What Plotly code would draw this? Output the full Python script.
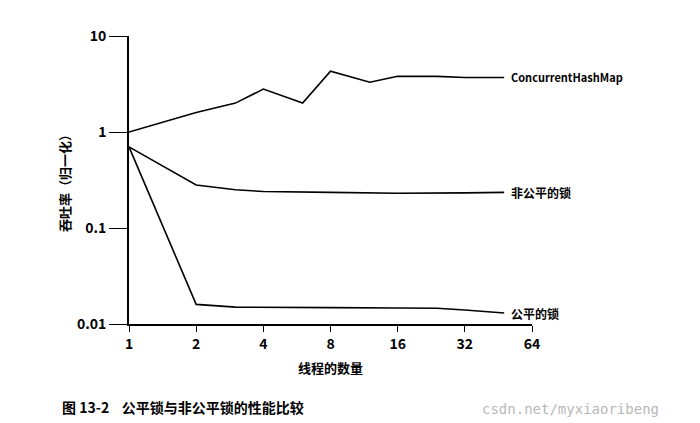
import math
import plotly.graph_objects as go

chm_x = [1, 2, 3, 4, 6, 8, 12, 16, 24, 32, 48]
chm_y = [1.0, 1.6, 2.0, 2.8, 2.0, 4.3, 3.3, 3.8, 3.8, 3.7, 3.7]
unfair_x = [1, 2, 3, 4, 8, 16, 32, 48]
unfair_y = [0.7, 0.28, 0.25, 0.24, 0.235, 0.23, 0.232, 0.235]
fair_x = [1, 2, 3, 4, 8, 16, 24, 32, 48]
fair_y = [0.7, 0.016, 0.015, 0.015, 0.0148, 0.0147, 0.0146, 0.014, 0.013]
labels = ["ConcurrentHashMap", "非公平的锁", "公平的锁"]
xticks = [1, 2, 4, 8, 16, 32, 64]
yticks = [0.01, 0.1, 1, 10]
ytext = ["0.01", "0.1", "1", "10"]

F = "Noto Sans CJK SC"
fig = go.Figure()
for xs, ys, lab in [(chm_x, chm_y, labels[0]), (unfair_x, unfair_y, labels[1]), (fair_x, fair_y, labels[2])]:
    fig.add_trace(go.Scatter(x=xs, y=ys, mode="lines", line=dict(color="black", width=1.6), showlegend=False))
    fig.add_annotation(x=0.02 + math.log10(xs[-1]), y=math.log10(ys[-1]),
                       text="<b>" + lab + "</b>", showarrow=False, xanchor="left",
                       font=dict(family=F, size=12 if lab != labels[0] else 11, color="black"))

fig.update_xaxes(type="log", range=[0, 1.806], tickvals=xticks, ticktext=["<b>%d</b>" % v for v in xticks],
                 showgrid=False, showline=True, linecolor="black", linewidth=1.6, ticks="outside",
                 ticklen=6, tickcolor="black", zeroline=False,
                 tickfont=dict(family=F, size=14, color="black"),
                 title=dict(text="<b>线程的数量</b>", font=dict(family=F, size=13, color="black"), standoff=12))
fig.update_yaxes(type="log", range=[-2, 1], tickvals=yticks, ticktext=["<b>%s</b>" % t for t in ytext],
                 showgrid=False, showline=True, linecolor="black", linewidth=1.6, ticks="outside",
                 ticklen=18, tickcolor="black", zeroline=False,
                 tickfont=dict(family=F, size=14, color="black"),
                 title=dict(text="<b>吞吐率（归一化）</b>", font=dict(family=F, size=13, color="black"), standoff=4))
fig.add_annotation(xref="paper", yref="paper", x=-0.17, y=-0.33, xanchor="left",
                   text="<b>图 13-2    公平锁与非公平锁的性能比较</b>", showarrow=False,
                   font=dict(family=F, size=14, color="black"))
fig.add_annotation(xref="paper", yref="paper", x=0.87, y=-0.33, xanchor="left",
                   text="csdn.net/myxiaoribeng", showarrow=False,
                   font=dict(family="DejaVu Sans Mono", size=14, color="#b8b8b8"))
fig.update_layout(width=700, height=423, margin=dict(l=121, r=176, t=28, b=107),
                  plot_bgcolor="white", paper_bgcolor="white")
fig.write_html("out.html")
